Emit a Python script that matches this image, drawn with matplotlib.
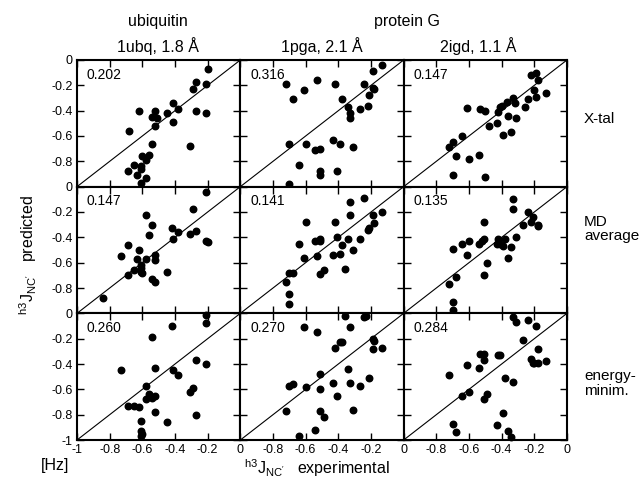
import matplotlib
matplotlib.use('Agg')
import matplotlib.pyplot as plt

plt.rcParams['font.family'] = ['Liberation Sans', 'DejaVu Sans']
plt.rcParams['mathtext.fontset'] = 'custom'
plt.rcParams['mathtext.rm'] = 'Liberation Sans'
plt.rcParams['mathtext.it'] = 'Liberation Sans:italic'

# 列: 结构, 行: 模型
col_titles = ['1ubq, 1.8 Å', '1pga, 2.1 Å', '2igd, 1.1 Å']
row_labels = ['X-tal', 'MD\naverage', 'energy-\nminim.']
rmsd = [['0.202', '0.316', '0.147'],
        ['0.147', '0.141', '0.135'],
        ['0.260', '0.270', '0.284']]

# X-tal
x_ubq_xtal = [-0.20, -0.27, -0.29, -0.21, -0.41, -0.38, -0.27, -0.21, -0.62, -0.52, -0.45, -0.54, -0.51, -0.41,
              -0.52, -0.68, -0.31, -0.54, -0.56, -0.60, -0.58, -0.65, -0.61, -0.61, -0.69, -0.63, -0.58, -0.61]
y_ubq_xtal = [-0.07, -0.17, -0.23, -0.19, -0.34, -0.39, -0.40, -0.42, -0.40, -0.40, -0.42, -0.45, -0.46, -0.49,
              -0.52, -0.56, -0.68, -0.66, -0.75, -0.76, -0.79, -0.83, -0.84, -0.86, -0.88, -0.91, -0.93, -0.97]
x_pga_xtal = [-0.13, -0.19, -0.72, -0.53, -0.42, -0.61, -0.68, -0.24, -0.19, -0.18, -0.21, -0.38, -0.22, -0.27, -0.34,
              -0.33, -0.33, -0.43, -0.39, -0.31, -0.70, -0.60, -0.54, -0.51, -0.64, -0.51, -0.51, -0.41, -0.70]
y_pga_xtal = [-0.04, -0.09, -0.19, -0.16, -0.19, -0.24, -0.31, -0.19, -0.22, -0.23, -0.28, -0.31, -0.36, -0.39, -0.37,
              -0.42, -0.46, -0.63, -0.66, -0.69, -0.66, -0.66, -0.71, -0.70, -0.83, -0.88, -0.91, -0.88, -0.98]
x_igd_xtal = [-0.22, -0.19, -0.18, -0.20, -0.13, -0.19, -0.24, -0.33, -0.32, -0.37, -0.40, -0.41, -0.26, -0.42, -0.61, -0.53,
              -0.50, -0.36, -0.31, -0.48, -0.43, -0.39, -0.34, -0.64, -0.70, -0.72, -0.68, -0.60, -0.54, -0.70, -0.50]
y_igd_xtal = [-0.12, -0.10, -0.16, -0.24, -0.26, -0.29, -0.31, -0.30, -0.34, -0.33, -0.36, -0.37, -0.37, -0.41, -0.38, -0.39,
              -0.40, -0.44, -0.46, -0.52, -0.50, -0.59, -0.57, -0.60, -0.65, -0.69, -0.76, -0.78, -0.75, -0.91, -0.92]

# MD average
x_ubq_md = [-0.21, -0.58, -0.54, -0.29, -0.42, -0.38, -0.27, -0.31, -0.56, -0.41, -0.21, -0.20, -0.69, -0.62, -0.52,
            -0.52, -0.73, -0.63, -0.58, -0.61, -0.61, -0.61, -0.60, -0.65, -0.69, -0.45, -0.54, -0.52, -0.84]
y_ubq_md = [-0.04, -0.22, -0.30, -0.18, -0.33, -0.36, -0.35, -0.37, -0.38, -0.41, -0.43, -0.44, -0.46, -0.50, -0.54,
            -0.58, -0.55, -0.57, -0.57, -0.62, -0.64, -0.67, -0.68, -0.66, -0.70, -0.67, -0.73, -0.75, -0.88]
x_pga_md = [-0.24, -0.33, -0.33, -0.19, -0.13, -0.60, -0.42, -0.18, -0.21, -0.22, -0.41, -0.34, -0.27, -0.54, -0.51, -0.51,
            -0.64, -0.38, -0.31, -0.39, -0.43, -0.61, -0.53, -0.36, -0.49, -0.51, -0.70, -0.68, -0.72, -0.70, -0.70]
y_pga_md = [-0.09, -0.12, -0.22, -0.22, -0.20, -0.28, -0.28, -0.29, -0.33, -0.34, -0.40, -0.41, -0.41, -0.43, -0.41, -0.43,
            -0.45, -0.46, -0.50, -0.53, -0.54, -0.56, -0.55, -0.65, -0.66, -0.69, -0.68, -0.68, -0.75, -0.85, -0.93]
x_igd_md = [-0.33, -0.33, -0.24, -0.21, -0.27, -0.22, -0.18, -0.18, -0.51, -0.31, -0.42, -0.38, -0.43, -0.41, -0.39,
            -0.34, -0.51, -0.52, -0.54, -0.60, -0.64, -0.70, -0.61, -0.36, -0.49, -0.68, -0.51, -0.72, -0.70, -0.70]
y_igd_md = [-0.10, -0.18, -0.20, -0.24, -0.30, -0.28, -0.31, -0.30, -0.28, -0.40, -0.41, -0.41, -0.45, -0.45, -0.47,
            -0.48, -0.41, -0.43, -0.45, -0.43, -0.45, -0.49, -0.54, -0.56, -0.60, -0.71, -0.70, -0.77, -0.91, -0.97]

# energy-minimized
x_ubq_em = [-0.21, -0.21, -0.42, -0.54, -0.27, -0.21, -0.52, -0.73, -0.41, -0.38, -0.58, -0.29, -0.31, -0.56,
            -0.52, -0.54, -0.58, -0.69, -0.65, -0.62, -0.52, -0.27, -0.61, -0.45, -0.61, -0.60, -0.61]
y_ubq_em = [-0.01, -0.08, -0.10, -0.19, -0.37, -0.40, -0.43, -0.45, -0.45, -0.49, -0.57, -0.59, -0.62, -0.64,
            -0.65, -0.67, -0.68, -0.73, -0.73, -0.74, -0.78, -0.80, -0.85, -0.86, -0.93, -0.95, -0.97]
x_pga_em = [-0.36, -0.24, -0.23, -0.61, -0.53, -0.33, -0.19, -0.18, -0.13, -0.19, -0.39, -0.38, -0.42, -0.34, -0.21,
            -0.51, -0.33, -0.27, -0.43, -0.70, -0.68, -0.60, -0.51, -0.41, -0.72, -0.31, -0.51, -0.49, -0.54, -0.64]
y_pga_em = [-0.02, -0.03, -0.02, -0.11, -0.15, -0.11, -0.20, -0.22, -0.27, -0.28, -0.23, -0.23, -0.27, -0.44, -0.51,
            -0.48, -0.55, -0.57, -0.55, -0.57, -0.56, -0.58, -0.60, -0.65, -0.77, -0.76, -0.77, -0.82, -0.92, -0.97]
x_igd_em = [-0.33, -0.31, -0.24, -0.19, -0.27, -0.18, -0.53, -0.51, -0.51, -0.42, -0.41, -0.22, -0.21, -0.20, -0.18, -0.13,
            -0.61, -0.54, -0.72, -0.38, -0.33, -0.60, -0.64, -0.49, -0.51, -0.39, -0.70, -0.43, -0.68, -0.36, -0.34]
y_igd_em = [-0.03, -0.07, -0.05, -0.10, -0.21, -0.28, -0.32, -0.32, -0.37, -0.33, -0.33, -0.36, -0.39, -0.39, -0.39, -0.38,
            -0.41, -0.43, -0.49, -0.51, -0.54, -0.62, -0.65, -0.64, -0.68, -0.79, -0.87, -0.88, -0.94, -0.93, -0.98]

panels = [[(x_ubq_xtal, y_ubq_xtal), (x_pga_xtal, y_pga_xtal), (x_igd_xtal, y_igd_xtal)],
          [(x_ubq_md, y_ubq_md), (x_pga_md, y_pga_md), (x_igd_md, y_igd_md)],
          [(x_ubq_em, y_ubq_em), (x_pga_em, y_pga_em), (x_igd_em, y_igd_em)]]

ticks = [-1, -0.8, -0.6, -0.4, -0.2, 0]

fig, axes = plt.subplots(3, 3, figsize=(6.44, 4.83), dpi=100)
fig.subplots_adjust(left=0.1196, right=0.8804, top=0.8758, bottom=0.089, wspace=0, hspace=0)

for r in range(3):
    for c in range(3):
        ax = axes[r][c]
        xs, ys = panels[r][c]
        ax.plot([-1, 0], [-1, 0], color='black', lw=0.8)
        ax.scatter(xs, ys, s=22, color='black', zorder=3, clip_on=False)
        ax.set_xlim(-1, 0)
        ax.set_ylim(-1, 0)
        ax.set_xticks(ticks)
        ax.set_yticks(ticks)
        ax.tick_params(direction='in', top=True, right=True, length=5, width=1, labelsize=9, pad=3)
        # 刻度标签只在左列和底行显示, 边界处不重复
        if r == 2:
            ax.set_xticklabels(['-1' if c == 0 else '', '-0.8', '-0.6', '-0.4', '-0.2', '0'])
        else:
            ax.set_xticklabels([])
        if c == 0:
            ax.set_yticklabels(['-1' if r == 2 else '', '-0.8', '-0.6', '-0.4', '-0.2', '0'])
        else:
            ax.set_yticklabels([])
        for sp in ax.spines.values():
            sp.set_linewidth(1.5)
        ax.text(0.06, 0.885, rmsd[r][c], transform=ax.transAxes, fontsize=10, va='center', ha='left')

# 标题
fig.text(0.2453, 0.9545, 'ubiquitin', fontsize=11.5, ha='center', va='center')
fig.text(0.632, 0.9545, 'protein G', fontsize=11.5, ha='center', va='center')
for x, t in zip([0.2453, 0.5, 0.742], col_titles):
    fig.text(x, 0.9048, t, fontsize=11.5, ha='center', va='center')

# 右侧行标签
for y, t in zip([0.754, 0.526, 0.206], row_labels):
    fig.text(0.907, y, t, fontsize=11, ha='left', va='center', linespacing=1.05)

fig.text(0.0435, 0.472, r"$^{\mathrm{h3}}\mathrm{J}_{\mathrm{NC'}}$   predicted", rotation=90,
         fontsize=11.5, ha='center', va='center')
fig.text(0.492, 0.019, r"$^{\mathrm{h3}}\mathrm{J}_{\mathrm{NC'}}$   experimental", fontsize=11.5,
         ha='center', va='baseline')
fig.text(0.064, 0.036, '[Hz]', fontsize=11.5, ha='left', va='center')

plt.savefig('out.png', dpi=100)
